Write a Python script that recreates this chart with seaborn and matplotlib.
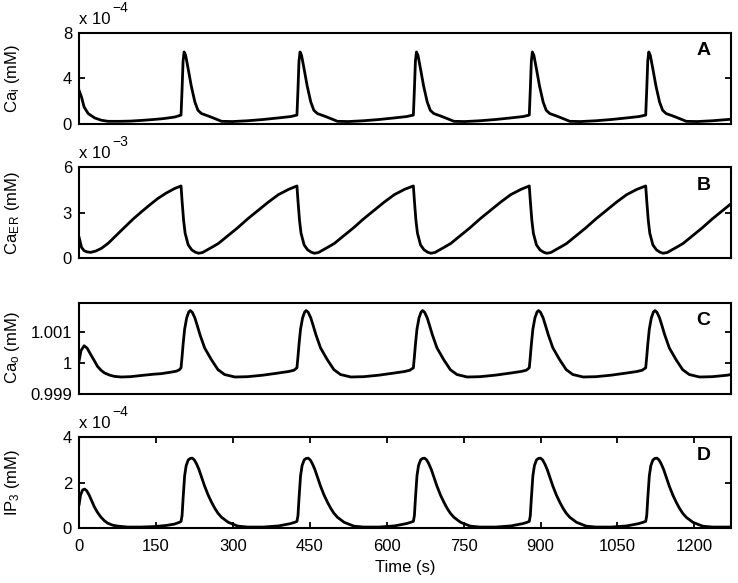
import matplotlib
matplotlib.use("Agg")
import matplotlib.pyplot as plt
import numpy as np
import seaborn as sns

# ---- values ----
# A: cytosolic Ca (x 1e-4 mM)
t_ca_i = [0, 5, 10, 18, 31, 44, 57, 80, 100, 122, 145, 165, 187, 197,
          199, 201, 203, 205, 208, 213, 219, 226, 232, 239, 252, 265, 278, 299, 329, 359, 389, 413,
          425, 427, 429, 431, 434, 439, 445, 452, 458, 465, 478, 491, 504, 525, 555, 585, 615, 639,
          652, 654, 656, 658, 661, 666, 672, 679, 685, 692, 705, 718, 731, 752, 782, 812, 842, 866,
          878, 880, 882, 884, 887, 892, 898, 905, 911, 918, 931, 944, 957, 978, 1008, 1038, 1068, 1092,
          1105, 1107, 1109, 1111, 1114, 1119, 1125, 1132, 1138, 1145, 1158, 1171, 1184, 1205, 1235, 1265, 1275]
ca_i = [2.95, 2.33, 1.46, 0.88, 0.49, 0.29, 0.2, 0.2, 0.22, 0.28, 0.36, 0.44, 0.58, 0.72,
        0.75, 3.0, 5.5, 6.3, 6.0, 4.8, 3.3, 1.9, 1.17, 0.88, 0.67, 0.44, 0.2, 0.18, 0.25, 0.36, 0.5, 0.62,
        0.75, 3.0, 5.5, 6.3, 6.0, 4.8, 3.3, 1.9, 1.17, 0.88, 0.67, 0.44, 0.2, 0.18, 0.25, 0.36, 0.5, 0.62,
        0.75, 3.0, 5.5, 6.3, 6.0, 4.8, 3.3, 1.9, 1.17, 0.88, 0.67, 0.44, 0.2, 0.18, 0.25, 0.36, 0.5, 0.62,
        0.75, 3.0, 5.5, 6.3, 6.0, 4.8, 3.3, 1.9, 1.17, 0.88, 0.67, 0.44, 0.2, 0.18, 0.25, 0.36, 0.5, 0.62,
        0.75, 3.0, 5.5, 6.3, 6.0, 4.8, 3.3, 1.9, 1.17, 0.88, 0.67, 0.44, 0.2, 0.18, 0.25, 0.36, 0.4]

# B: ER Ca (x 1e-3 mM)
t_ca_er = [0, 5, 10, 16, 23, 33, 44, 57, 73, 90, 106, 122, 138, 154, 170, 187,
           199, 201, 204, 207, 213, 220, 227, 233, 241, 252, 262, 272, 289, 309, 329, 349, 369, 389, 409,
           425, 427, 430, 433, 439, 446, 453, 459, 467, 478, 488, 498, 515, 535, 555, 575, 595, 615, 635,
           652, 654, 657, 660, 666, 673, 680, 686, 694, 705, 715, 725, 742, 762, 782, 802, 822, 842, 862,
           878, 880, 883, 886, 892, 899, 906, 912, 920, 931, 941, 951, 968, 988, 1008, 1028, 1048, 1068, 1088,
           1105, 1107, 1110, 1113, 1119, 1126, 1133, 1139, 1147, 1158, 1168, 1178, 1195, 1215, 1235, 1255, 1275]
ca_er = [1.42, 0.72, 0.5, 0.42, 0.39, 0.48, 0.66, 0.99, 1.52, 2.08, 2.6, 3.07, 3.52, 3.95, 4.3, 4.61,
         4.77, 3.8, 2.5, 1.65, 0.88, 0.55, 0.4, 0.33, 0.38, 0.59, 0.78, 0.98, 1.45, 2.0, 2.6, 3.15, 3.7, 4.2, 4.55,
         4.77, 3.8, 2.5, 1.65, 0.88, 0.55, 0.4, 0.33, 0.38, 0.59, 0.78, 0.98, 1.45, 2.0, 2.6, 3.15, 3.7, 4.2, 4.55,
         4.77, 3.8, 2.5, 1.65, 0.88, 0.55, 0.4, 0.33, 0.38, 0.59, 0.78, 0.98, 1.45, 2.0, 2.6, 3.15, 3.7, 4.2, 4.55,
         4.77, 3.8, 2.5, 1.65, 0.88, 0.55, 0.4, 0.33, 0.38, 0.59, 0.78, 0.98, 1.45, 2.0, 2.6, 3.15, 3.7, 4.2, 4.55,
         4.77, 3.8, 2.5, 1.65, 0.88, 0.55, 0.4, 0.33, 0.38, 0.59, 0.78, 0.98, 1.45, 2.0, 2.6, 3.15, 3.7]

# C: extracellular Ca, deviation from 1 mM (x 1e-3 mM)
t_ca_o = [0, 4, 10, 16, 23, 30, 36, 43, 50, 60, 69, 82, 100, 122, 145, 161, 180, 190, 196,
          199, 201, 203, 206, 210, 214, 217, 221, 226, 231, 236, 245, 258, 271, 284, 304, 329, 359, 389, 409, 419,
          425, 427, 429, 432, 436, 440, 443, 447, 452, 457, 462, 471, 484, 497, 510, 530, 555, 585, 615, 635, 645,
          652, 654, 656, 659, 663, 667, 670, 674, 679, 684, 689, 698, 711, 724, 737, 757, 782, 812, 842, 862, 872,
          878, 880, 882, 885, 889, 893, 896, 900, 905, 910, 915, 924, 937, 950, 963, 983, 1008, 1038, 1068, 1088, 1098,
          1105, 1107, 1109, 1112, 1116, 1120, 1123, 1127, 1132, 1137, 1142, 1151, 1164, 1177, 1190, 1210, 1235, 1265, 1275]
ca_o_dev = [0.05, 0.4, 0.56, 0.48, 0.27, 0.07, -0.11, -0.24, -0.33, -0.4, -0.44, -0.46, -0.45, -0.41, -0.37, -0.35, -0.3, -0.27, -0.22,
            -0.16, 0.2, 0.6, 1.1, 1.47, 1.66, 1.71, 1.65, 1.47, 1.2, 0.92, 0.49, 0.11, -0.22, -0.38, -0.46, -0.45, -0.4, -0.33, -0.28, -0.24,
            -0.16, 0.2, 0.6, 1.1, 1.47, 1.66, 1.71, 1.65, 1.47, 1.2, 0.92, 0.49, 0.11, -0.22, -0.38, -0.46, -0.45, -0.4, -0.33, -0.28, -0.24,
            -0.16, 0.2, 0.6, 1.1, 1.47, 1.66, 1.71, 1.65, 1.47, 1.2, 0.92, 0.49, 0.11, -0.22, -0.38, -0.46, -0.45, -0.4, -0.33, -0.28, -0.24,
            -0.16, 0.2, 0.6, 1.1, 1.47, 1.66, 1.71, 1.65, 1.47, 1.2, 0.92, 0.49, 0.11, -0.22, -0.38, -0.46, -0.45, -0.4, -0.33, -0.28, -0.24,
            -0.16, 0.2, 0.6, 1.1, 1.47, 1.66, 1.71, 1.65, 1.47, 1.2, 0.92, 0.49, 0.11, -0.22, -0.38, -0.46, -0.45, -0.4, -0.36]

# D: IP3 (x 1e-4 mM)
t_ip3 = [0, 3, 7, 11, 15, 20, 25, 30, 36, 43, 50, 56, 66, 76, 95, 120, 147, 170, 186, 196,
         199, 201, 203, 206, 209, 213, 217, 221, 225, 229, 234, 239, 245, 252, 259, 265, 271, 278, 291, 310, 329, 359, 389, 412, 421,
         425, 427, 429, 432, 435, 439, 443, 447, 451, 455, 460, 465, 471, 478, 485, 491, 497, 504, 517, 536, 555, 585, 615, 638, 647,
         652, 654, 656, 659, 662, 666, 670, 674, 678, 682, 687, 692, 698, 705, 712, 718, 724, 731, 744, 763, 782, 812, 842, 865, 874,
         878, 880, 882, 885, 888, 892, 896, 900, 904, 908, 913, 918, 924, 931, 938, 944, 950, 957, 970, 989, 1008, 1038, 1068, 1091, 1100,
         1105, 1107, 1109, 1112, 1115, 1119, 1123, 1127, 1131, 1135, 1140, 1145, 1151, 1158, 1165, 1171, 1177, 1184, 1197, 1216, 1235, 1265, 1275]
ip3 = [1.0, 1.45, 1.68, 1.72, 1.65, 1.45, 1.2, 0.94, 0.7, 0.48, 0.32, 0.22, 0.13, 0.09, 0.05, 0.05, 0.07, 0.12, 0.18, 0.26,
       0.3, 0.55, 1.3, 2.3, 2.75, 3.0, 3.07, 3.08, 3.0, 2.84, 2.58, 2.25, 1.85, 1.45, 1.12, 0.87, 0.66, 0.48, 0.26, 0.09, 0.05, 0.05, 0.1, 0.2, 0.26,
       0.3, 0.55, 1.3, 2.3, 2.75, 3.0, 3.07, 3.08, 3.0, 2.84, 2.58, 2.25, 1.85, 1.45, 1.12, 0.87, 0.66, 0.48, 0.26, 0.09, 0.05, 0.05, 0.1, 0.2, 0.26,
       0.3, 0.55, 1.3, 2.3, 2.75, 3.0, 3.07, 3.08, 3.0, 2.84, 2.58, 2.25, 1.85, 1.45, 1.12, 0.87, 0.66, 0.48, 0.26, 0.09, 0.05, 0.05, 0.1, 0.2, 0.26,
       0.3, 0.55, 1.3, 2.3, 2.75, 3.0, 3.07, 3.08, 3.0, 2.84, 2.58, 2.25, 1.85, 1.45, 1.12, 0.87, 0.66, 0.48, 0.26, 0.09, 0.05, 0.05, 0.1, 0.2, 0.26,
       0.3, 0.55, 1.3, 2.3, 2.75, 3.0, 3.07, 3.08, 3.0, 2.84, 2.58, 2.25, 1.85, 1.45, 1.12, 0.87, 0.66, 0.48, 0.26, 0.09, 0.05, 0.05, 0.06]

x_ticks = [0, 150, 300, 450, 600, 750, 900, 1050, 1200]

sns.set_theme(style="white")
plt.rcParams["font.family"] = ["Liberation Sans", "DejaVu Sans"]
plt.rcParams["mathtext.fontset"] = "custom"
plt.rcParams["mathtext.rm"] = "Liberation Sans"
plt.rcParams["mathtext.it"] = "Liberation Sans:italic"
plt.rcParams["mathtext.bf"] = "Liberation Sans:bold"

panels = [
    dict(t=t_ca_i, y=ca_i, ylim=(0, 8), yticks=[0, 4, 8], ylabels=["0", "4", "8"],
         label=r"Ca$_{\mathrm{i}}$ (mM)", exponent="\u22124", letter="A", bottom=0.788),
    dict(t=t_ca_er, y=ca_er, ylim=(0, 6), yticks=[0, 3, 6], ylabels=["0", "3", "6"],
         label=r"Ca$_{\mathrm{E\,R}}$ (mM)", exponent="\u22123", letter="B", bottom=0.557),
    dict(t=t_ca_o, y=list(1 + np.array(ca_o_dev) * 1e-3), ylim=(0.999, 1.00197),
         yticks=[0.999, 1.0, 1.001], ylabels=["0.999", "1", "1.001"],
         label=r"Ca$_{\mathrm{o}}$ (mM)", exponent=None, letter="C", bottom=0.325),
    dict(t=t_ip3, y=ip3, ylim=(0, 4), yticks=[0, 2, 4], ylabels=["0", "2", "4"],
         label=r"IP$_{\mathrm{3}}$ (mM)", exponent="\u22124", letter="D", bottom=0.094),
]

fig = plt.figure(figsize=(7.38, 5.83), dpi=100)

for i, p in enumerate(panels):
    ax = fig.add_axes([0.107, p["bottom"], 0.884, 0.156])
    sns.lineplot(x=p["t"], y=p["y"], ax=ax, color="black", linewidth=2.0,
                 estimator=None, sort=False)
    ax.set_xlim(0, 1272)
    ax.set_ylim(*p["ylim"])
    ax.set_yticks(p["yticks"])
    ax.set_yticklabels(p["ylabels"])
    ax.tick_params(axis="y", direction="in", left=True, right=True, length=4.5,
                   width=1.3, color="black", labelsize=12, pad=5, labelcolor="black")
    if i == len(panels) - 1:
        ax.set_xticks(x_ticks)
        ax.set_xticklabels([str(v) for v in x_ticks])
        ax.tick_params(axis="x", direction="in", bottom=True, top=True, length=4.5,
                       width=1.3, color="black", labelsize=12, pad=8, labelcolor="black")
        ax.set_xlabel("Time (s)", fontsize=12, color="black", labelpad=4)
    else:
        ax.set_xticks([])
    for s in ax.spines.values():
        s.set_linewidth(1.5)
        s.set_color("black")
    ax.set_ylabel(p["label"], fontsize=12, color="black")
    ax.yaxis.set_label_coords(-0.088, 0.5)
    ax.text(0.968, 0.80, p["letter"], transform=ax.transAxes, ha="right", va="center",
            fontsize=14, fontweight="bold", color="black")
    if p["exponent"]:
        ax.text(0.0, 1.10, "x 10", transform=ax.transAxes, ha="left", va="baseline",
                fontsize=12, color="black")
        ax.text(0.051, 1.23, p["exponent"], transform=ax.transAxes, ha="left", va="baseline",
                fontsize=10, color="black")

fig.savefig("out.png", dpi=100)
